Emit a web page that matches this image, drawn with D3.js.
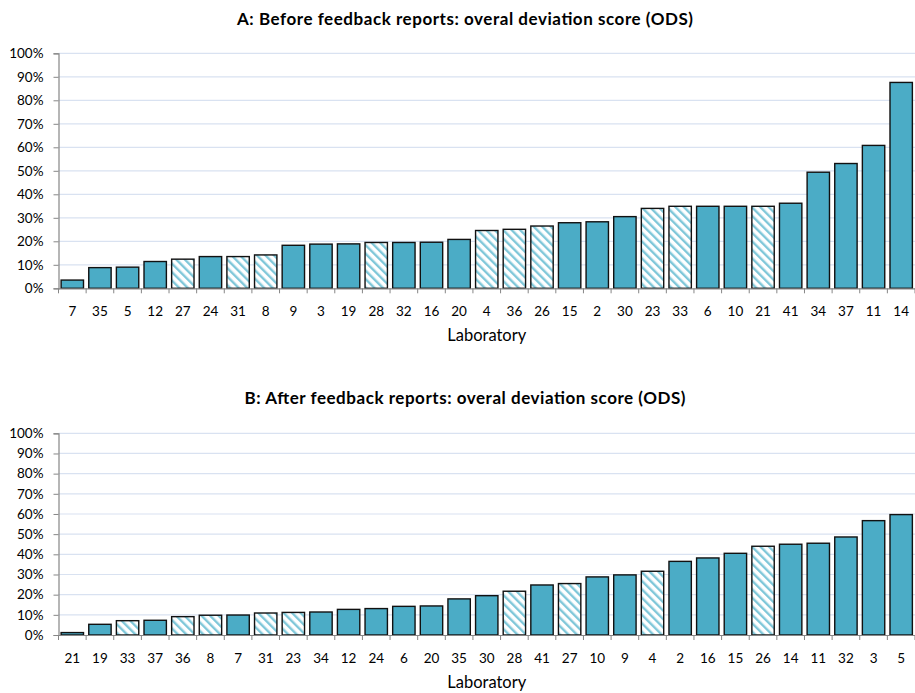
<!DOCTYPE html>
<html>
<head>
<meta charset="utf-8">
<script src="https://cdn.jsdelivr.net/npm/d3@7"></script>
<style>
  body { margin: 0; background: #fff; }
  svg text { font-family: Lato, "Open Sans", sans-serif; fill: #000; }
  .title { font-weight: bold; font-size: 17px; }
  .tick text { font-size: 13.5px; }
  .axis-title { font-size: 16.5px; }
</style>
</head>
<body>
<svg id="canvas" width="915" height="693"></svg>
<script>
// panel A: before feedback reports
const labsA = ["7","35","5","12","27","24","31","8","9","3","19","28","32","16","20","4","36","26","15","2","30","23","33","6","10","21","41","34","37","11","14"];
const odsA = [3.5,8.8,9.0,11.4,12.4,13.5,13.5,14.2,18.3,18.8,18.9,19.5,19.5,19.6,20.8,24.6,25.1,26.5,27.9,28.3,30.5,34.0,34.9,34.9,34.9,34.9,36.2,49.4,53.1,60.8,87.6];
const hatchA = ["27","31","8","28","4","36","26","23","33","21"];

// panel B: after feedback reports
const labsB = ["21","19","33","37","36","8","7","31","23","34","12","24","6","20","35","30","28","41","27","10","9","4","2","16","15","26","14","11","32","3","5"];
const odsB = [1.2,5.3,7.1,7.3,9.1,9.8,9.9,10.9,11.2,11.4,12.7,13.1,14.2,14.4,17.9,19.5,21.7,24.8,25.5,28.8,29.8,31.6,36.5,38.2,40.5,44.0,45.0,45.5,48.6,56.7,59.7];
const hatchB = ["33","36","8","31","23","28","27","4","26"];

const yTicks = [0,10,20,30,40,50,60,70,80,90,100];

const svg = d3.select("#canvas");

//diagonal stripe pattern for the hatched bars
const pat = svg.append("defs").append("pattern")
  .attr("id", "hatch")
  .attr("patternUnits", "userSpaceOnUse")
  .attr("width", 6).attr("height", 6)
  .attr("patternTransform", "rotate(-45)");
pat.append("rect").attr("width", 6).attr("height", 6).attr("fill", "#fff");
pat.append("rect").attr("x", 0).attr("width", 2.4).attr("height", 6).attr("fill", "#7fc7d9");

function panel(labs, vals, hatched, cfg) {
  const left = 58.5, right = 915;
  const data = labs.map((l, i) => ({lab: l, v: vals[i]}));

  const x = d3.scaleBand().domain(labs).range([left, right]).paddingInner(0.19).paddingOuter(0.095);
  const y = d3.scaleLinear().domain([0, 100]).range([cfg.bottom, cfg.top]);

  const g = svg.append("g");

  //title
  g.append("text").attr("class", "title")
    .attr("x", 465).attr("y", cfg.titleY)
    .attr("text-anchor", "middle")
    .attr("textLength", cfg.titleW).attr("lengthAdjust", "spacing")
    .text(cfg.title);

  //gridlines
  g.append("g").selectAll("line")
    .data(yTicks.slice(1))
    .join("line")
    .attr("x1", left).attr("x2", right)
    .attr("y1", d => y(d)).attr("y2", d => y(d))
    .attr("stroke", "#d9e2f1").attr("stroke-width", 1.2);

  //bars
  g.append("g").selectAll("rect")
    .data(data)
    .join("rect")
    .attr("x", d => x(d.lab))
    .attr("width", x.bandwidth())
    .attr("y", d => y(d.v))
    .attr("height", d => y(0) - y(d.v))
    .attr("fill", d => hatched.includes(d.lab) ? "url(#hatch)" : "#4bacc6")
    .attr("stroke", "#111").attr("stroke-width", 1.4);

  //y axis
  const ya = g.append("g")
    .attr("transform", `translate(${left},0)`)
    .call(d3.axisLeft(y).tickValues(yTicks).tickFormat(d => d + "%").tickSize(5).tickPadding(10));
  ya.select(".domain").attr("stroke", "#868686").attr("stroke-width", 1.2);
  ya.selectAll(".tick line").attr("stroke", "#868686");
  ya.selectAll(".tick text").attr("fill", "#000");

  //x axis with ticks on band edges
  const xa = g.append("g")
    .attr("transform", `translate(0,${cfg.bottom})`)
    .call(d3.axisBottom(x).tickSize(0).tickPadding(18));
  xa.select(".domain").attr("stroke", "#868686").attr("stroke-width", 1.2);
  xa.selectAll(".tick text").attr("fill", "#000");
  const step = x.step();
  xa.append("g").selectAll("line")
    .data(d3.range(labs.length + 1))
    .join("line")
    .attr("x1", i => left + i * step).attr("x2", i => left + i * step)
    .attr("y1", 0).attr("y2", 5)
    .attr("stroke", "#868686");

  g.append("text").attr("class", "axis-title")
    .attr("x", (left + right) / 2).attr("y", cfg.labY)
    .attr("text-anchor", "middle")
    .text("Laboratory");
}

panel(labsA, odsA, hatchA, {title: "A: Before feedback reports: overal deviation score (ODS)", titleW: 456, titleY: 25, top: 53.3, bottom: 288.3, labY: 341});
panel(labsB, odsB, hatchB, {title: "B: After feedback reports: overal deviation score (ODS)", titleW: 441, titleY: 404, top: 433.3, bottom: 635, labY: 688});
</script>
</body>
</html>
